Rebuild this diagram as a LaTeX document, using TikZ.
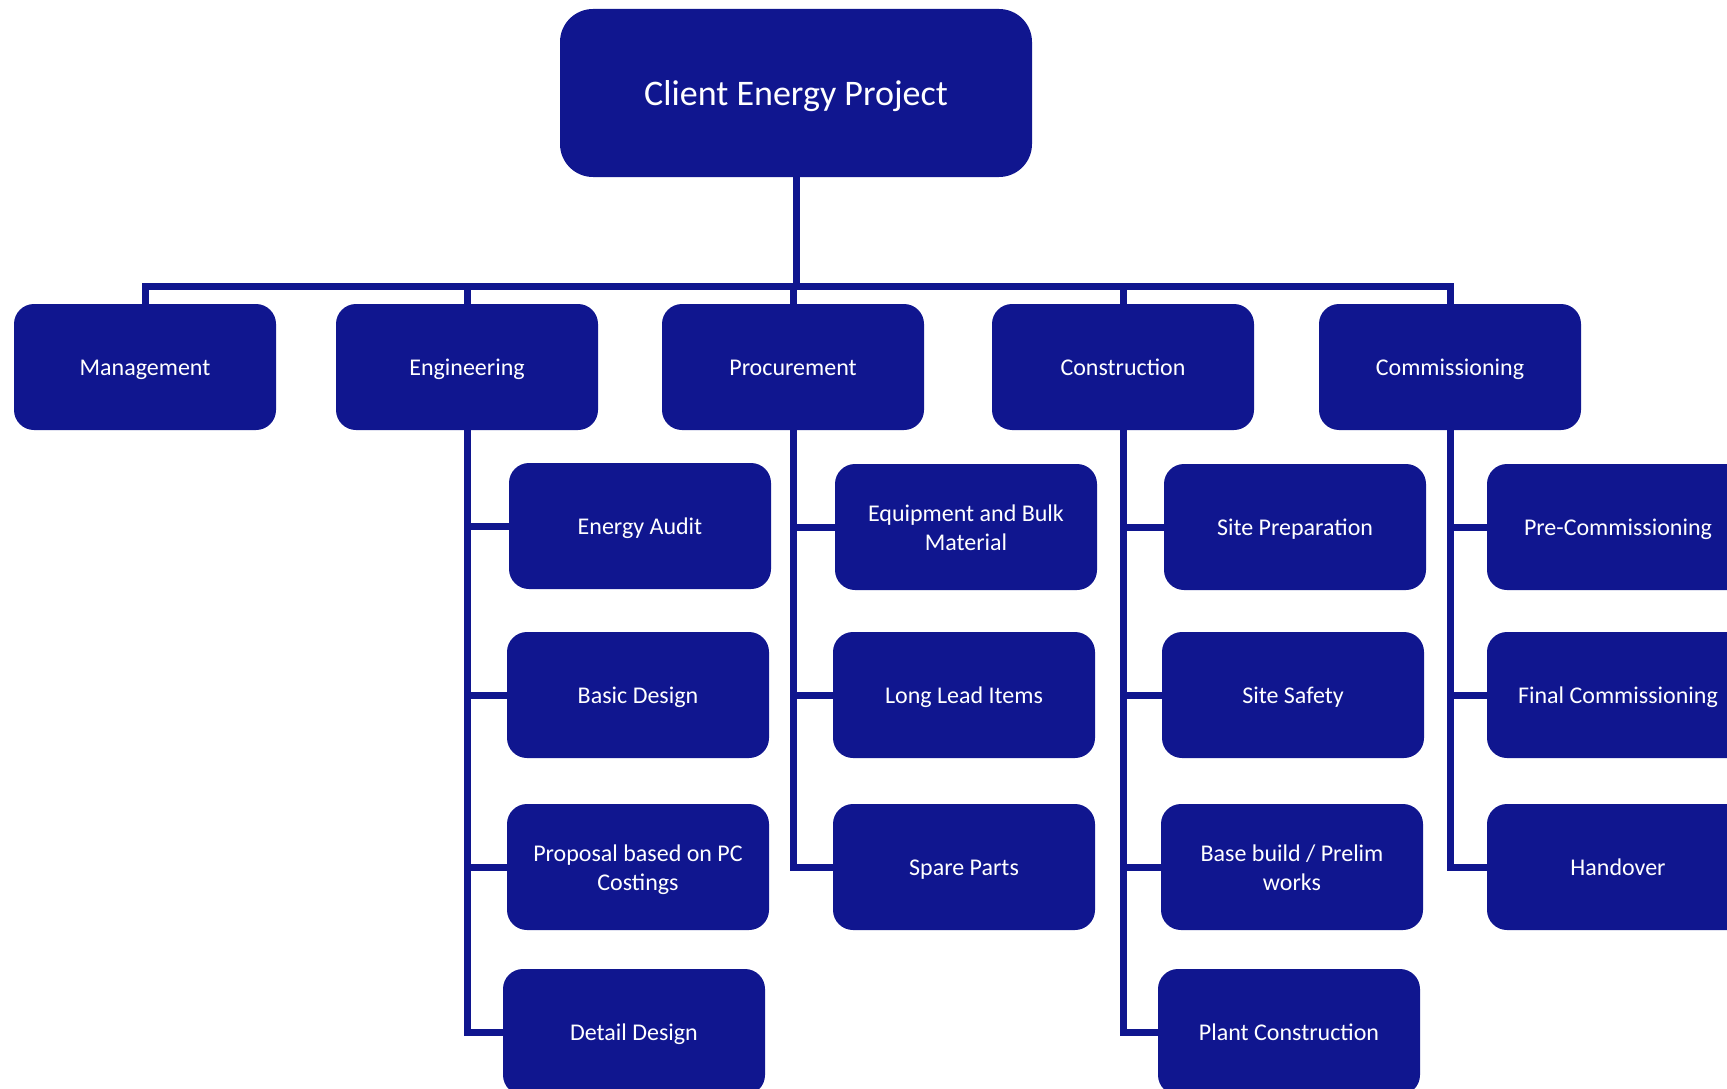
\documentclass[tikz,border=0pt]{standalone}
\usepackage{fontspec}
\setmainfont{Carlito}
\definecolor{wbsblue}{RGB}{16,22,143}
\tikzset{
	wbsbox/.style={fill=wbsblue, text=white, rounded corners=20pt, minimum width=262pt, minimum height=126pt, inner sep=0pt, align=center, font=\fontsize{24}{29}\selectfont, text height=22.8pt, text depth=5.5pt},
	wbstwo/.style={wbsbox, text height=51.8pt},
	wbsline/.style={draw=wbsblue, line width=7pt},
}
\begin{document}
\begin{tikzpicture}[x=1pt, y=-1pt, line join=miter]
			\useasboundingbox (0,0) rectangle (1727,1089);
			\clip (0,0) rectangle (1727,1089);
			\node[wbsbox, minimum width=472pt, minimum height=168pt, rounded corners=33pt, font=\fontsize{36}{43}\selectfont, text height=34.2pt, text depth=8.3pt] (proj) at (796,93) {Client Energy Project};
			\coordinate (bar) at (0,286);
			% level 1
			\foreach \name/\x/\txt in {mgmt/145/Management, eng/467/Engineering, proc/793/Procurement, cons/1123/Construction, comm/1450/Commissioning}
				\node[wbsbox] (\name) at (\x,367) {\txt};
			\draw[wbsline] (proj.south) -- (proj.south |- bar);
			\draw[wbsline] (mgmt.north) -- (mgmt.north |- bar) -- (comm.north |- bar) -- (comm.north);
			\foreach \name in {eng, proc, cons} \draw[wbsline] (\name.north) -- (\name.north |- bar);
			% level 2
			\node[wbsbox] (eng1) at (640,526) {Energy Audit};
			\node[wbsbox] (eng2) at (638,695) {Basic Design};
			\node[wbstwo] (eng3) at (638,867) {Proposal based on PC\\Costings};
			\node[wbsbox] (eng4) at (634,1032) {Detail Design};
			\node[wbstwo] (proc1) at (966,527) {Equipment and Bulk\\Material};
			\node[wbsbox] (proc2) at (964,695) {Long Lead Items};
			\node[wbsbox] (proc3) at (964,867) {Spare Parts};
			\node[wbsbox] (cons1) at (1295,527) {Site Preparation};
			\node[wbsbox] (cons2) at (1293,695) {Site Safety};
			\node[wbstwo] (cons3) at (1292,867) {Base build / Prelim\\works};
			\node[wbsbox] (cons4) at (1289,1032) {Plant Construction};
			\foreach \i/\y/\txt in {1/527/Pre-Commissioning, 2/695/Final Commissioning, 3/867/Handover}
				\node[wbsbox] (comm\i) at (1618,\y) {\txt};
			\draw[wbsline] (eng.south) |- (eng4.west);
			\draw[wbsline] (proc.south) |- (proc3.west);
			\draw[wbsline] (cons.south) |- (cons4.west);
			\draw[wbsline] (comm.south) |- (comm3.west);
			\foreach \i in {1,2,3} \draw[wbsline] (eng\i.west) -- (eng\i.west -| eng.south);
			\foreach \i in {1,2} \draw[wbsline] (proc\i.west) -- (proc\i.west -| proc.south);
			\foreach \i in {1,2,3} \draw[wbsline] (cons\i.west) -- (cons\i.west -| cons.south);
			\foreach \i in {1,2} \draw[wbsline] (comm\i.west) -- (comm\i.west -| comm.south);
		\end{tikzpicture}
\end{document}
